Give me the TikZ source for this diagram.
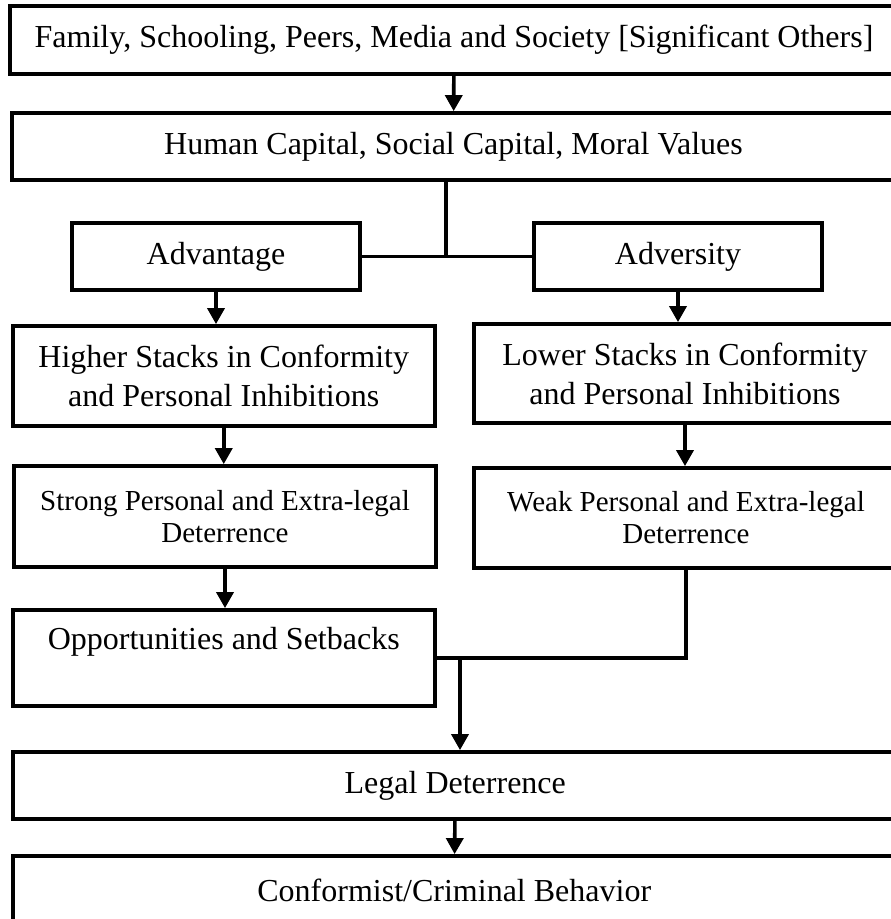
\documentclass[tikz,border=0pt]{standalone}
\usepackage{fontspec}
\setmainfont{Liberation Serif}
\usetikzlibrary{arrows.meta}

\begin{document}
\begin{tikzpicture}[x=1pt,y=-1pt,
    box/.style={draw=black, line width=3.8pt, inner sep=0pt, align=center,
      font=\fontsize{32}{39}\selectfont},
    smallbox/.style={box, font=\fontsize{29}{32}\selectfont},
    link/.style={line width=3.6pt},
    arr/.style={link, -{Triangle[length=16pt,width=17pt]}}]
  \useasboundingbox (0,0) rectangle (891,919);
  % boxes
  \node[box, minimum width=888pt, minimum height=68pt] (top) at (454,40) {Family, Schooling, Peers, Media and Society [Significant Others]};
  \node[box, minimum width=883pt, minimum height=67pt] (hum) at (453.5,146.5) {Human Capital, Social Capital, Moral Values};
  \node[box, minimum width=288pt, minimum height=67pt] (adv) at (216,256.5) {Advantage};
  \node[box, minimum width=288pt, minimum height=67pt] (advs) at (678,256.5) {Adversity};
  \node[box, minimum width=422pt, minimum height=100pt] (higher) at (223.75,376) {Higher Stacks in Conformity\\and Personal Inhibitions};
  \node[box, minimum width=422pt, minimum height=99pt] (lower) at (685,373.5) {Lower Stacks in Conformity\\and Personal Inhibitions};
  \node[smallbox, minimum width=422pt, minimum height=101pt] (strong) at (225,516.5) {Strong Personal and Extra-legal\\Deterrence};
  \node[smallbox, minimum width=424pt, minimum height=100pt] (weak) at (686,518) {Weak Personal and Extra-legal\\Deterrence};
  \node[box, minimum width=422pt, minimum height=96pt] (opp) at (223.75,658) {Opportunities and Setbacks\\ \mbox{}};
  \node[box, minimum width=885pt, minimum height=67pt] (legal) at (455.25,785.5) {Legal Deterrence};
  \node[box, minimum width=883pt, minimum height=68pt] (conf) at (454.25,890) {Conformist/Criminal Behavior};
  % connectors
  \coordinate (split) at (446,256.5);
  \coordinate (merge) at (460,658);
  \draw[arr] (top) -- (hum);
  \draw[link] (hum.south -| split) -- (split);
  \draw[link] (adv) -- (advs);
  \draw[arr] (adv.south) -- (adv.south |- higher.north);
  \draw[arr] (advs.south) -- (advs.south |- lower.north);
  \draw[arr] (higher.south) -- (higher.south |- strong.north);
  \draw[arr] (lower.south) -- (lower.south |- weak.north);
  \draw[arr] (strong.south) -- (strong.south |- opp.north);
  \draw[link] (weak.south) |- (opp.east);
  \draw[arr] (merge) -- (merge |- legal.north);
  \draw[arr] (legal) -- (conf);
\end{tikzpicture}
\end{document}
